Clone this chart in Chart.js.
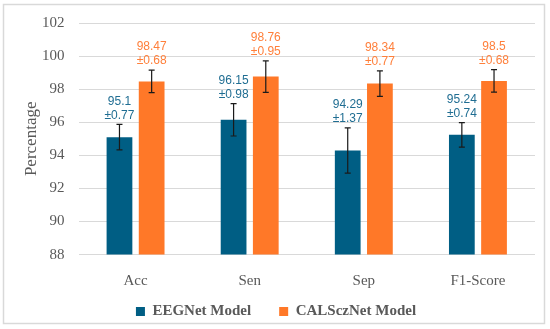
<!DOCTYPE html>
<html>
<head>
<meta charset="utf-8">
<script src="https://cdn.jsdelivr.net/npm/chart.js@4"></script>
<style>
  body { margin: 0; background: #fff; }
  #wrap { width: 550px; height: 329px; }
</style>
</head>
<body>
<div id="wrap"><canvas id="grafica" width="550" height="329"></canvas></div>
<script>
const categorias = ['Acc', 'Sen', 'Sep', 'F1-Score'];
const eegnet = [95.1, 96.15, 94.29, 95.24];
const eegnetErr = [0.77, 0.98, 1.37, 0.74];
const calscznet = [98.47, 98.76, 98.34, 98.5];
const calscznetErr = [0.68, 0.95, 0.77, 0.68];
const yTicks = [88, 90, 92, 94, 96, 98, 100, 102];

const azul = '#005e84';
const naranja = '#ff7828';

// marco gris alrededor de todo
const marco = {
  id: 'marco',
  beforeDraw(chart) {
    const c = chart.ctx;
    c.save();
    c.strokeStyle = '#d9d9d9';
    c.lineWidth = 1.5;
    c.strokeRect(3.5, 4.5, 541, 319);
    c.restore();
  }
};

// barras de error + etiquetas de valor
const errores = {
  id: 'errores',
  afterDatasetsDraw(chart) {
    const c = chart.ctx;
    const y = chart.scales.y;
    chart.data.datasets.forEach((ds, i) => {
      const meta = chart.getDatasetMeta(i);
      meta.data.forEach((bar, j) => {
        const v = ds.data[j];
        const e = ds.errores[j];
        const yTop = y.getPixelForValue(v + e);
        const yBot = y.getPixelForValue(v - e);
        c.save();
        c.strokeStyle = '#1a1a1a';
        c.lineWidth = 1.2;
        c.beginPath();
        c.moveTo(bar.x, yTop); c.lineTo(bar.x, yBot);
        c.moveTo(bar.x - 3, yTop); c.lineTo(bar.x + 3, yTop);
        c.moveTo(bar.x - 3, yBot); c.lineTo(bar.x + 3, yBot);
        c.stroke();
        c.fillStyle = ds.colorTexto;
        c.font = "12px 'Liberation Sans Narrow', 'Liberation Sans', sans-serif";
        c.textAlign = 'center';
        c.textBaseline = 'middle';
        c.fillText('±' + e.toFixed(2), bar.x, yTop - 9);
        c.fillText(String(v), bar.x, yTop - 23);
        c.restore();
      });
    });
  }
};

new Chart(document.getElementById('grafica').getContext('2d'), {
  type: 'bar',
  data: {
    labels: categorias,
    datasets: [{
      label: 'EEGNet Model',
      data: eegnet,
      errores: eegnetErr,
      colorTexto: '#1f6d92',
      backgroundColor: azul,
      categoryPercentage: 0.564,
      barPercentage: 0.8
    }, {
      label: 'CALSczNet Model',
      data: calscznet,
      errores: calscznetErr,
      colorTexto: '#ff7f3a',
      backgroundColor: naranja,
      categoryPercentage: 0.564,
      barPercentage: 0.8
    }]
  },
  options: {
    responsive: false,
    animation: false,
    layout: { padding: { left: 17, right: 15, top: 20, bottom: 0 } },
    plugins: {
      legend: {
        position: 'bottom',
        // título vacío: sólo deja sitio para las etiquetas del eje x
        title: { display: true, text: '', font: { size: 12 }, padding: { top: 4, bottom: 3 } },
        labels: {
          boxWidth: 9,
          boxHeight: 9,
          padding: 28,
          color: '#595959',
          font: { family: "'Liberation Serif', serif", size: 15, weight: 'bold' }
        }
      },
      tooltip: { enabled: false }
    },
    scales: {
      x: {
        position: { y: 88 },
        grid: { display: false },
        border: { display: false },
        ticks: {
          color: '#595959',
          padding: 9,
          font: { family: "'Liberation Serif', serif", size: 15 }
        }
      },
      y: {
        min: 88,
        max: 102,
        afterBuildTicks: s => { s.ticks = yTicks.map(v => ({ value: v })); },
        afterFit: s => { s.width = 61.5; },
        grid: { color: '#d9d9d9', drawTicks: false },
        border: { display: false },
        title: {
          display: true,
          text: 'Percentage',
          color: '#595959',
          padding: { top: 4, bottom: 4 },
          font: { family: "'Liberation Serif', serif", size: 17 }
        },
        ticks: {
          color: '#595959',
          padding: 14,
          font: { family: "'Liberation Serif', serif", size: 15 }
        }
      }
    }
  },
  plugins: [marco, errores]
});
</script>
</body>
</html>
